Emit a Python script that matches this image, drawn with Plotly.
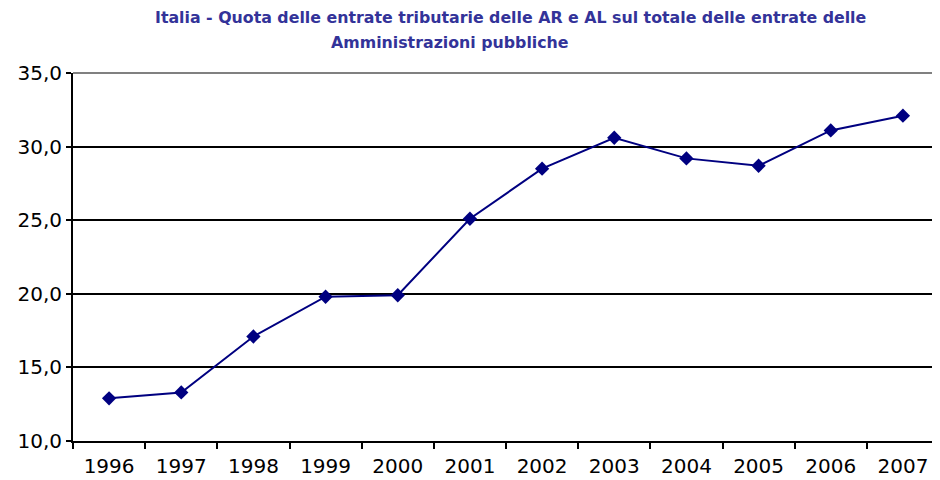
import plotly.graph_objects as go

years = ["1996", "1997", "1998", "1999", "2000", "2001", "2002", "2003", "2004", "2005", "2006", "2007"]
quota = [12.9, 13.3, 17.1, 19.8, 19.9, 25.1, 28.5, 30.6, 29.2, 28.7, 31.1, 32.1]

title_line_1 = "Italia - Quota delle entrate tributarie delle AR e AL sul totale delle entrate delle"
title_line_2 = "Amministrazioni pubbliche"

fig = go.Figure(
    go.Scatter(
        x=years,
        y=quota,
        mode="lines+markers",
        line=dict(color="#000080", width=2),
        marker=dict(symbol="diamond", size=11, color="#000080"),
        showlegend=False,
    )
)

title_font = dict(family="DejaVu Sans", size=15.8, color="#333399")
fig.add_annotation(text="<b>" + title_line_1 + "</b>", xref="paper", yref="paper",
                   x=0.505, y=1.152, xanchor="center", yanchor="middle", showarrow=False, font=title_font)
fig.add_annotation(text="<b>" + title_line_2 + "</b>", xref="paper", yref="paper",
                   x=0.435, y=1.084, xanchor="center", yanchor="middle", showarrow=False, font=title_font)

# gray frame on top and right side
fig.add_shape(type="line", xref="paper", yref="paper", x0=0, x1=1, y0=1, y1=1,
              line=dict(color="#808080", width=2))
fig.add_shape(type="line", xref="paper", yref="paper", x0=1, x1=1, y0=0, y1=1,
              line=dict(color="#808080", width=2))

# page body has an 8px margin, so the figure is sized to end at the window edge
fig.update_layout(
    width=933,
    height=472,
    margin=dict(l=65, r=2, t=65, b=39),
    paper_bgcolor="white",
    plot_bgcolor="white",
    separators=", ",
    font=dict(family="DejaVu Sans", size=20, color="black"),
    xaxis=dict(
        type="category",
        range=[-0.5, 11.5],
        tickson="boundaries",
        ticks="outside",
        ticklen=6,
        tickwidth=2,
        tickcolor="black",
        ticklabelstandoff=6,
        showline=True,
        linecolor="black",
        linewidth=2,
        showgrid=False,
        tickfont=dict(size=20),
    ),
    yaxis=dict(
        range=[10, 35],
        dtick=5,
        tickformat=".1f",
        ticks="outside",
        ticklen=5,
        tickwidth=2,
        tickcolor="black",
        showline=True,
        linecolor="black",
        linewidth=2,
        showgrid=True,
        gridcolor="black",
        gridwidth=2,
        zeroline=False,
        tickfont=dict(size=20),
    ),
)

fig.write_html("out.html")
